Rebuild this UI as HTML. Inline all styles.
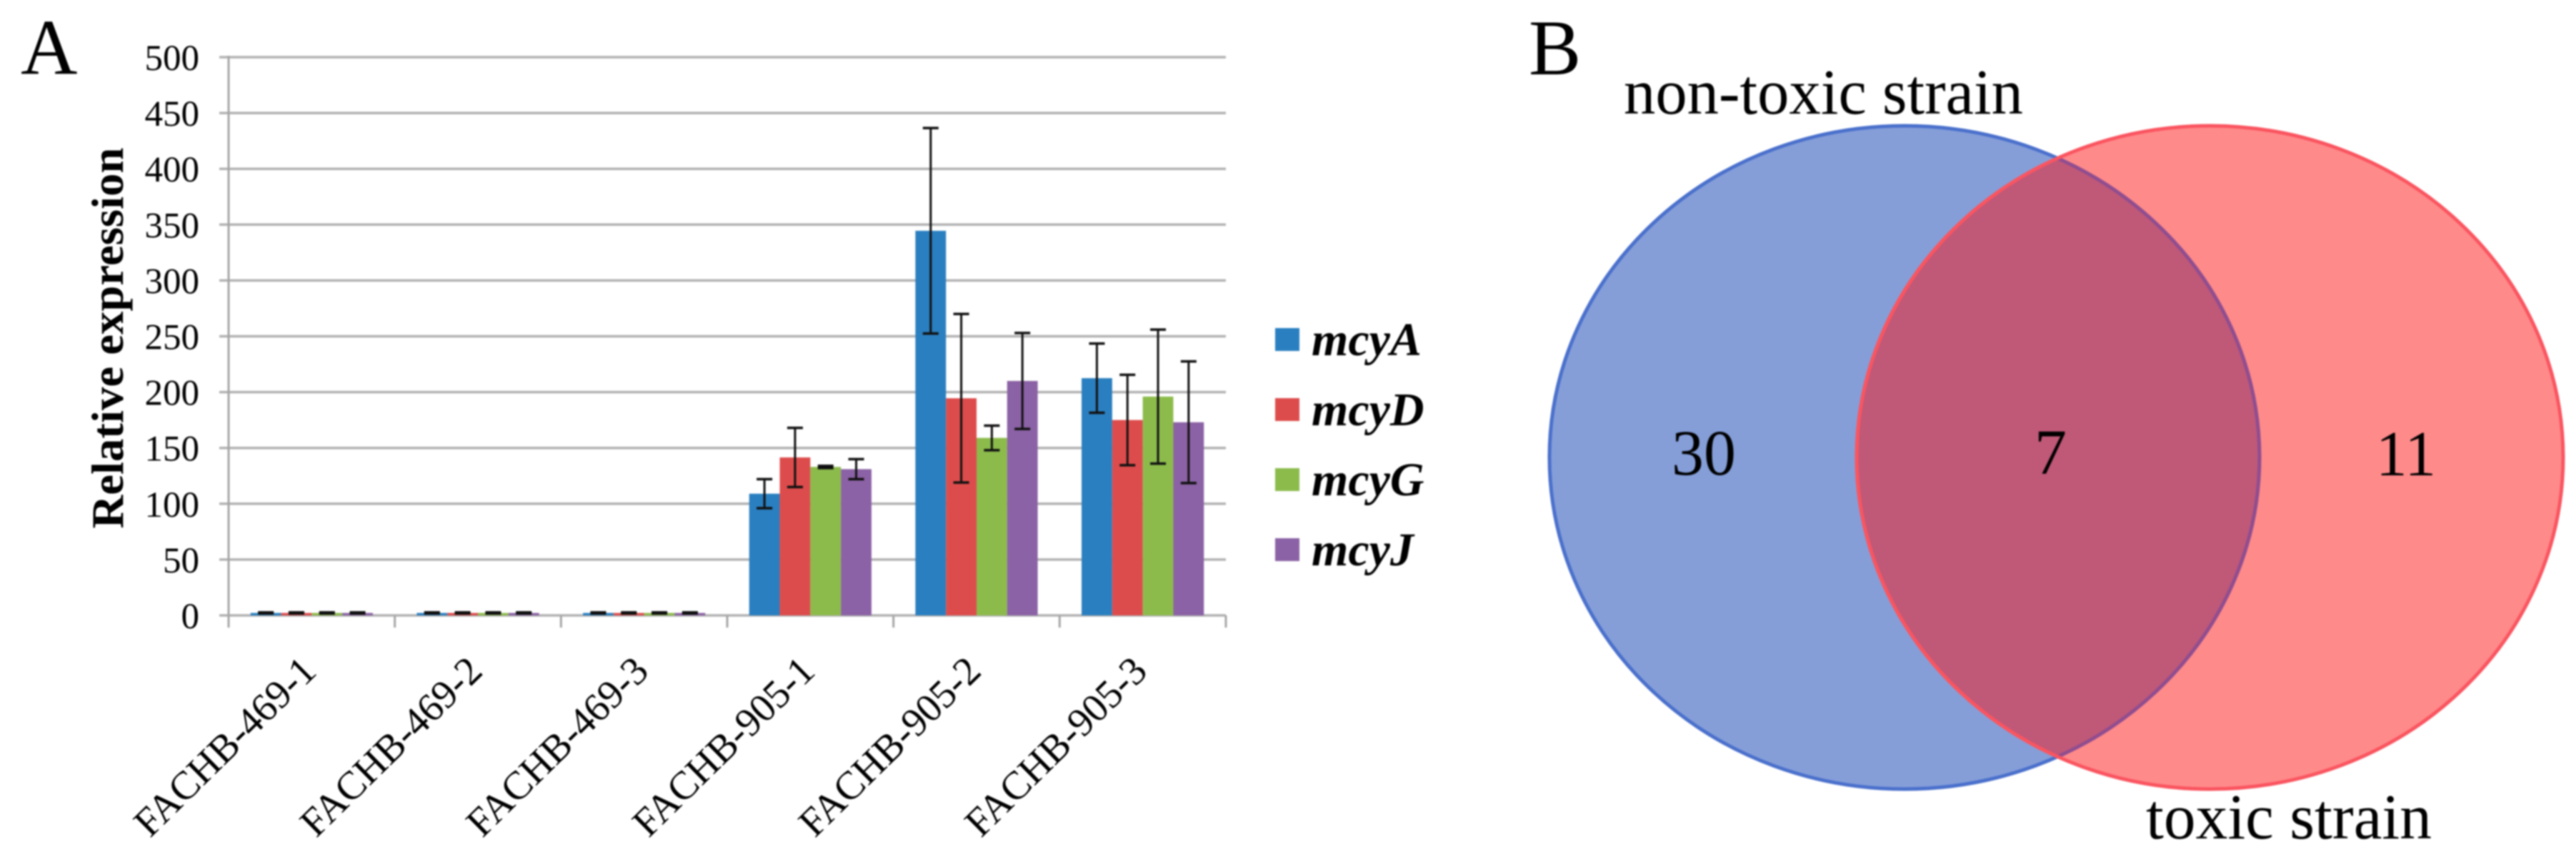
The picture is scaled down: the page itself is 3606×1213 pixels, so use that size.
<!DOCTYPE html>
<html lang="en">
<head>
<meta charset="utf-8">
<title>Relative expression of mcy genes and Venn diagram</title>
<style>
  html, body { margin: 0; padding: 0; background: #fff; }
  #figure { display: block; width: 3606px; height: 1213px; filter: blur(1px); }
  text { font-family: "Liberation Serif", "Times New Roman", serif; fill: #000; }
</style>
</head>
<body>
<svg id="figure" xmlns="http://www.w3.org/2000/svg" width="3606" height="1213" viewBox="0 0 3606 1213">
  <rect x="0" y="0" width="3606" height="1213" fill="#ffffff"/>
  <g id="panel-a">
    <text x="29" y="103" font-size="110">A</text>
    <g id="grid"></g>
    <g id="bars"></g>
    <g id="axes"></g>
    <g id="errors"></g>
    <g id="yticks"></g>
    <g id="xticks"></g>
    <text transform="translate(172 473) rotate(-90)" text-anchor="middle" font-size="64" font-weight="bold" textLength="533" lengthAdjust="spacingAndGlyphs">Relative expression</text>
    <g id="legend"></g>
  </g>
  <g id="panel-b">
    <defs>
      <clipPath id="blue-clip"><ellipse cx="2666" cy="640" rx="497" ry="464"/></clipPath>
      <clipPath id="red-clip"><ellipse cx="3093.5" cy="640" rx="494.5" ry="464"/></clipPath>
    </defs>
    <ellipse cx="2666" cy="640" rx="497" ry="464" fill="#859ed8"/>
    <ellipse cx="2666" cy="640" rx="497" ry="464" fill="none" stroke="#4a70cc" stroke-width="5"/>
    <ellipse cx="3093.5" cy="640" rx="494.5" ry="464" fill="#ff8a8a"/>
    <ellipse cx="3093.5" cy="640" rx="494.5" ry="464" fill="#c05878" clip-path="url(#blue-clip)"/>
    <ellipse cx="2666" cy="640" rx="497" ry="464" fill="none" stroke="#8f4d8f" stroke-width="5" clip-path="url(#red-clip)"/>
    <ellipse cx="3093.5" cy="640" rx="494.5" ry="464" fill="none" stroke="#fa5560" stroke-width="5"/>
    <text x="2140" y="104" font-size="110">B</text>
    <text x="2273" y="159" font-size="90" textLength="559" lengthAdjust="spacingAndGlyphs">non-toxic strain</text>
    <text x="3004" y="1173" font-size="90" textLength="400" lengthAdjust="spacingAndGlyphs">toxic strain</text>
    <text x="2340" y="664" font-size="90">30</text>
    <text x="2848" y="663" font-size="90">7</text>
    <text x="3326" y="665" font-size="90" textLength="84" lengthAdjust="spacingAndGlyphs">11</text>
  </g>
</svg>
<script>
const categories = ["FACHB-469-1", "FACHB-469-2", "FACHB-469-3", "FACHB-905-1", "FACHB-905-2", "FACHB-905-3"];
const seriesNames = ["mcyA", "mcyD", "mcyG", "mcyJ"];
const yTickLabels = [0, 50, 100, 150, 200, 250, 300, 350, 400, 450, 500];
const mcyAValues = [2.2, 2.2, 2.2, 109, 344.5, 212.5];
const mcyDValues = [2.2, 2.2, 2.2, 141.5, 194.5, 175];
const mcyGValues = [2.2, 2.2, 2.2, 133, 159, 196];
const mcyJValues = [2.2, 2.2, 2.2, 131, 210, 173];
const mcyAErrors = [0.5, 0.5, 0.5, 13, 92, 31];
const mcyDErrors = [0.5, 0.5, 0.5, 26.5, 75.5, 40.5];
const mcyGErrors = [0.5, 0.5, 0.5, 1, 11, 60];
const mcyJErrors = [0.5, 0.5, 0.5, 9, 43, 54.5];

const seriesValues = [mcyAValues, mcyDValues, mcyGValues, mcyJValues];
const seriesErrors = [mcyAErrors, mcyDErrors, mcyGErrors, mcyJErrors];
const seriesColors = ["#2a7fc0", "#dd4c4c", "#8cbb4c", "#8b62a5"];

const plotLeft = 320, plotRight = 1716, plotBase = 861, plotTop = 80, yMax = 500;
const catWidth = (plotRight - plotLeft) / categories.length;
const barWidth = 42.8;
const groupOffset = (catWidth - barWidth * seriesNames.length) / 2;

function yScale(v) { return plotBase - (v / yMax) * (plotBase - plotTop); }
function xScale(c, s) { return plotLeft + c * catWidth + groupOffset + s * barWidth; }

const NS = "http://www.w3.org/2000/svg";
function make(parent, tag, attrs, text) {
  const el = document.createElementNS(NS, tag);
  for (const k in attrs) el.setAttribute(k, attrs[k]);
  if (text !== undefined) el.textContent = text;
  parent.appendChild(el);
  return el;
}

const gGrid = document.getElementById("grid");
const gBars = document.getElementById("bars");
const gAxes = document.getElementById("axes");
const gErr = document.getElementById("errors");
const gYT = document.getElementById("yticks");
const gXT = document.getElementById("xticks");
const gLeg = document.getElementById("legend");

yTickLabels.forEach(function (t) {
  const y = yScale(t);
  const line = make(gGrid, "line", { x1: 307, x2: plotRight, y1: y, y2: y, stroke: "#b2b2b2", "stroke-width": 3.5 });
  
  
  const label = make(gYT, "text", { x: 279, y: y + 18, "text-anchor": "end", "font-size": 51 }, String(t));
  
  
});

seriesNames.forEach(function (name, s) {
  categories.forEach(function (cat, c) {
    const v = seriesValues[s][c];
    const top = yScale(v);
    const x = xScale(c, s);
    const bar = make(gBars, "rect", { x: x, y: top, width: barWidth, height: plotBase - top, fill: seriesColors[s] });
    
    

    const e = seriesErrors[s][c];
    const cx = x + barWidth / 2;
    const hi = yScale(v + e), lo = yScale(v - e);
    const stem = make(gErr, "line", { x1: cx, x2: cx, y1: hi, y2: lo, stroke: "#111", "stroke-width": 3 });
    
    
    const capHi = make(gErr, "line", { x1: cx - 11, x2: cx + 11, y1: hi, y2: hi, stroke: "#111", "stroke-width": 3.5 });
    
    
    const capLo = make(gErr, "line", { x1: cx - 11, x2: cx + 11, y1: lo, y2: lo, stroke: "#111", "stroke-width": 3.5 });
    
    
  });
});

const yAxis = make(gAxes, "line", { x1: plotLeft, x2: plotLeft, y1: plotTop - 2, y2: 878, stroke: "#a6a6a6", "stroke-width": 3 });


categories.forEach(function (cat, c) {
  const tx = plotLeft + (c + 1) * catWidth;
  const tick = make(gAxes, "line", { x1: tx, x2: tx, y1: plotBase, y2: 878, stroke: "#a6a6a6", "stroke-width": 3 });
  
  
  const cx = plotLeft + (c + 0.5) * catWidth + 9;
  const label = make(gXT, "text", { transform: "translate(" + cx + " 942) rotate(-44.5)", "text-anchor": "end", "font-size": 56, textLength: 330, lengthAdjust: "spacingAndGlyphs" }, cat);
  
  
});

const legendStart = 459, legendStep = 98;
seriesNames.forEach(function (name, s) {
  const y = legendStart + s * legendStep;
  const swatch = make(gLeg, "rect", { x: 1785, y: y, width: 34, height: 32, fill: seriesColors[s] });
  
  
  const label = make(gLeg, "text", { x: 1836, y: y + 38, "font-size": 66, "font-weight": "bold", "font-style": "italic" }, name);
  
  
});
</script>
</body>
</html>
